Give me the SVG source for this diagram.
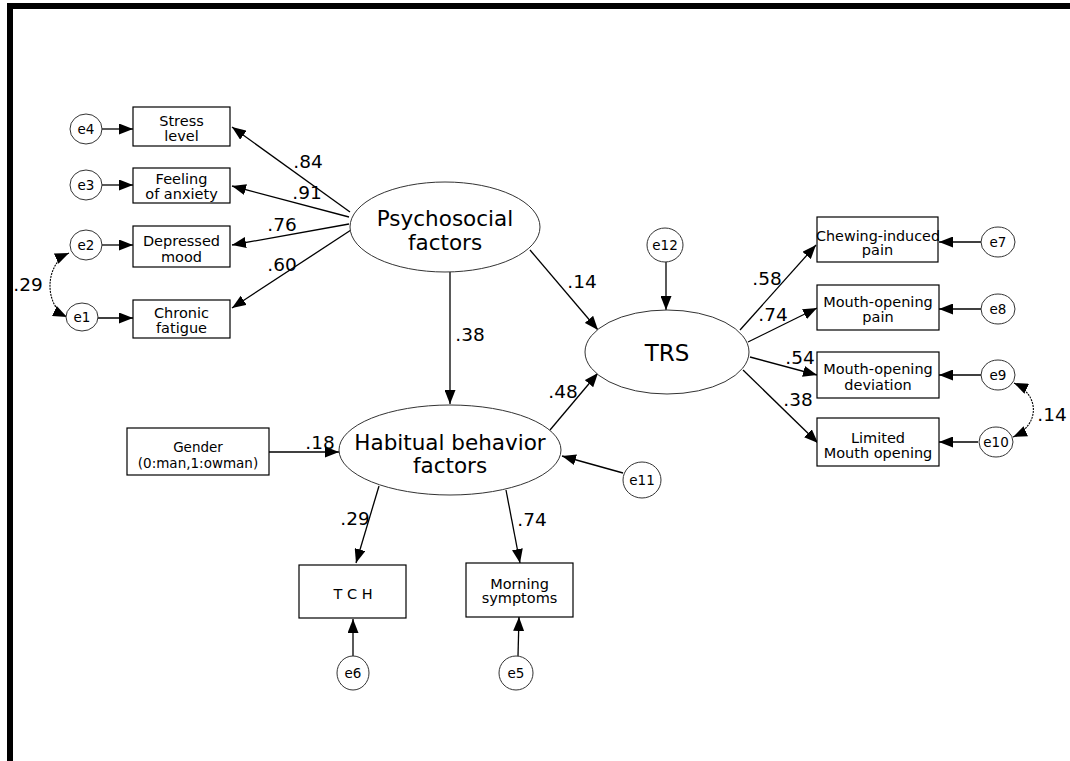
<svg xmlns="http://www.w3.org/2000/svg" width="1070" height="761" viewBox="0 0 1070 761">
<style>
.box{fill:#fff;stroke:#000;stroke-width:1.2}
.lat{fill:#fff;stroke:#333;stroke-width:1}
.err{fill:#fff;stroke:#333;stroke-width:1}
.bt{font-family:"DejaVu Sans",Verdana,sans-serif;font-size:14.5px;text-anchor:middle;fill:#000}
.lt{font-family:"DejaVu Sans",Verdana,sans-serif;font-size:21.5px;text-anchor:middle;fill:#000}
.et{font-family:"DejaVu Sans",Verdana,sans-serif;font-size:13.5px;text-anchor:middle;fill:#000}
.pl{font-family:"DejaVu Sans",Verdana,sans-serif;font-size:18.5px;text-anchor:middle;fill:#000}
.c{fill:none;stroke:#000;stroke-width:1.3;marker-end:url(#ah)}
.d{fill:none;stroke:#000;stroke-width:1.1;stroke-dasharray:2 1;marker-end:url(#ah);marker-start:url(#ah)}
</style>
<defs>
<marker id="ah" markerUnits="userSpaceOnUse" markerWidth="15" markerHeight="11" refX="14" refY="5.5" orient="auto-start-reverse">
<path d="M0,0 L14,5.5 L0,11 Z" fill="#000"/>
</marker>
</defs>
<rect width="1070" height="761" fill="#fff"/>
<rect x="7" y="3" width="1063" height="6" fill="#000"/>
<rect x="7" y="3" width="6" height="758" fill="#000"/>

<g id="connectors">
<line class="c" x1="350" y1="212" x2="232" y2="127"/>
<line class="c" x1="349" y1="217" x2="232" y2="186"/>
<line class="c" x1="349" y1="224" x2="232" y2="245"/>
<line class="c" x1="351" y1="230" x2="232" y2="308"/>
<line class="c" x1="530" y1="250" x2="598" y2="330"/>
<line class="c" x1="450" y1="272" x2="450" y2="404"/>
<line class="c" x1="550" y1="430" x2="598" y2="373"/>
<line class="c" x1="269" y1="452" x2="339" y2="452"/>
<line class="c" x1="623" y1="473" x2="562" y2="456"/>
<line class="c" x1="379" y1="486" x2="356" y2="563"/>
<line class="c" x1="506" y1="490" x2="520" y2="563"/>
<line class="c" x1="353" y1="656" x2="353" y2="619"/>
<line class="c" x1="518" y1="656" x2="519" y2="617"/>
<line class="c" x1="666" y1="262" x2="666" y2="310"/>
<line class="c" x1="740" y1="330" x2="816" y2="245"/>
<line class="c" x1="748" y1="342" x2="817" y2="308"/>
<line class="c" x1="750" y1="357" x2="817" y2="375"/>
<line class="c" x1="743" y1="370" x2="818" y2="443"/>
<line class="c" x1="981" y1="242" x2="939" y2="242"/>
<line class="c" x1="981" y1="309" x2="939" y2="309"/>
<line class="c" x1="981" y1="375" x2="939" y2="375"/>
<line class="c" x1="978" y1="442" x2="939" y2="442"/>
<line class="c" x1="102" y1="129" x2="133" y2="129"/>
<line class="c" x1="102" y1="185" x2="133" y2="185"/>
<line class="c" x1="101" y1="245" x2="133" y2="245"/>
<line class="c" x1="98" y1="318" x2="133" y2="318"/>
<path class="d" d="M69,253 C44,264 44,306 67,317"/>
<path class="d" d="M1014,383 C1040,395 1040,425 1013,437"/>
<text class="pl" x="308" y="168">.84</text>
<text class="pl" x="307" y="199">.91</text>
<text class="pl" x="282" y="231">.76</text>
<text class="pl" x="282" y="271">.60</text>
<text class="pl" x="28" y="291">.29</text>
<text class="pl" x="582" y="288">.14</text>
<text class="pl" x="470" y="341">.38</text>
<text class="pl" x="563" y="398">.48</text>
<text class="pl" x="320" y="449">.18</text>
<text class="pl" x="355" y="525">.29</text>
<text class="pl" x="532" y="526">.74</text>
<text class="pl" x="767" y="285">.58</text>
<text class="pl" x="773" y="321">.74</text>
<text class="pl" x="800" y="364">.54</text>
<text class="pl" x="798" y="406">.38</text>
<text class="pl" x="1052" y="421">.14</text>
</g>

<g id="stress"><rect class="box" x="133" y="107" width="97" height="39"/><text class="bt" x="181.5" y="126">Stress</text><text class="bt" x="181.5" y="141">level</text></g>
<g id="anxiety"><rect class="box" x="133" y="168" width="97" height="35"/><text class="bt" x="181.5" y="184">Feeling</text><text class="bt" x="181.5" y="199">of anxiety</text></g>
<g id="depressed"><rect class="box" x="133" y="226" width="97" height="41"/><text class="bt" x="181.5" y="246">Depressed</text><text class="bt" x="181.5" y="262">mood</text></g>
<g id="fatigue"><rect class="box" x="133" y="300" width="97" height="38"/><text class="bt" x="181.5" y="318">Chronic</text><text class="bt" x="181.5" y="333">fatigue</text></g>

<g id="e4"><ellipse class="err" cx="86" cy="129" rx="16" ry="15"/><text class="et" x="86" y="134">e4</text></g>
<g id="e3"><ellipse class="err" cx="86" cy="185" rx="16" ry="15"/><text class="et" x="86" y="190">e3</text></g>
<g id="e2"><ellipse class="err" cx="86" cy="245" rx="16" ry="15"/><text class="et" x="86" y="250">e2</text></g>
<g id="e1"><ellipse class="err" cx="82" cy="317" rx="16" ry="14"/><text class="et" x="82" y="322">e1</text></g>

<g id="psychosocial"><ellipse class="lat" cx="445" cy="227" rx="95" ry="45"/><text class="lt" x="445" y="226">Psychosocial</text><text class="lt" x="445" y="250">factors</text></g>
<g id="habitual"><ellipse class="lat" cx="450" cy="450" rx="111" ry="45"/><text class="lt" x="450" y="450">Habitual behavior</text><text class="lt" x="450" y="473">factors</text></g>
<g id="trs"><ellipse class="lat" cx="667" cy="352" rx="82" ry="42"/><text class="lt" x="667" y="361" style="font-size:23px">TRS</text></g>

<g id="gender"><rect class="box" x="127" y="428" width="142" height="47"/><text class="bt" x="198" y="452" style="font-size:13.5px">Gender</text><text class="bt" x="198" y="468" style="font-size:13.5px">(0:man,1:owman)</text></g>
<g id="tch"><rect class="box" x="299" y="565" width="107" height="53"/><text class="bt" x="353" y="599">T C H</text></g>
<g id="morning"><rect class="box" x="466" y="563" width="107" height="54"/><text class="bt" x="519.5" y="589">Morning</text><text class="bt" x="519.5" y="603">symptoms</text></g>
<g id="e6"><ellipse class="err" cx="353" cy="673" rx="16" ry="17"/><text class="et" x="353" y="678">e6</text></g>
<g id="e5"><ellipse class="err" cx="516" cy="673" rx="17" ry="17"/><text class="et" x="516" y="678">e5</text></g>
<g id="e11"><ellipse class="err" cx="642" cy="480" rx="19" ry="18"/><text class="et" x="642" y="485">e11</text></g>
<g id="e12"><ellipse class="err" cx="665" cy="245" rx="18" ry="17"/><text class="et" x="665" y="250">e12</text></g>

<g id="chewing"><rect class="box" x="817" y="217" width="121" height="45"/><text class="bt" x="878" y="241" textLength="124" lengthAdjust="spacingAndGlyphs">Chewing-induced</text><text class="bt" x="877.5" y="255">pain</text></g>
<g id="mopain"><rect class="box" x="817" y="285" width="122" height="45"/><text class="bt" x="878" y="307">Mouth-opening</text><text class="bt" x="878" y="322">pain</text></g>
<g id="modev"><rect class="box" x="817" y="352" width="122" height="46"/><text class="bt" x="878" y="374">Mouth-opening</text><text class="bt" x="878" y="390">deviation</text></g>
<g id="limited"><rect class="box" x="817" y="418" width="122" height="48"/><text class="bt" x="878" y="443">Limited</text><text class="bt" x="878" y="458">Mouth opening</text></g>

<g id="e7"><ellipse class="err" cx="998" cy="242" rx="17" ry="15"/><text class="et" x="998" y="247">e7</text></g>
<g id="e8"><ellipse class="err" cx="998" cy="309" rx="17" ry="15"/><text class="et" x="998" y="314">e8</text></g>
<g id="e9"><ellipse class="err" cx="998" cy="375" rx="17" ry="15"/><text class="et" x="998" y="380">e9</text></g>
<g id="e10"><ellipse class="err" cx="996" cy="442" rx="17" ry="15"/><text class="et" x="996" y="447">e10</text></g>
</svg>
